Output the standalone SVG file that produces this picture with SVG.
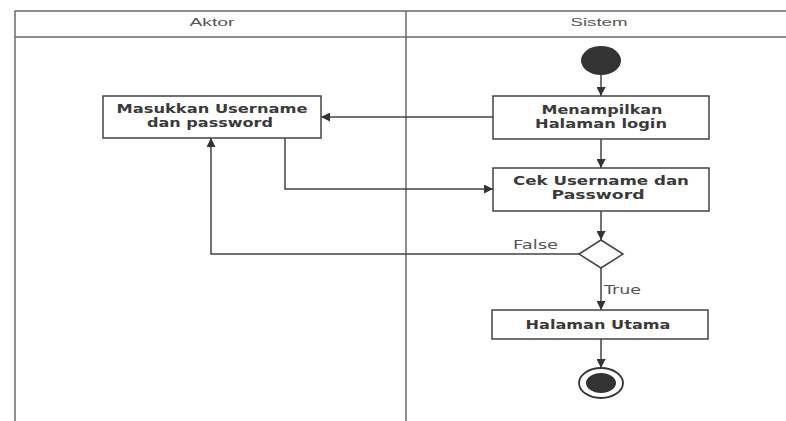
<svg xmlns="http://www.w3.org/2000/svg" width="786" height="421" viewBox="0 0 786 421">
<defs>
<marker id="arr" viewBox="0 0 10 10" refX="10" refY="5" markerWidth="10" markerHeight="9" markerUnits="userSpaceOnUse" orient="auto">
<path d="M0,0 L10,5 L0,10 z" fill="#333"/>
</marker>
<style>
.lane{fill:none;stroke:#6a6a6a;stroke-width:1.5}
.hdr{font-family:"Liberation Sans",Arial,sans-serif;font-size:11px;fill:#555;text-anchor:middle}
.box{fill:#fff;stroke:#444;stroke-width:1.5}
.lbl{font-family:"DejaVu Sans","Liberation Sans",sans-serif;font-size:11.5px;font-weight:bold;fill:#3a3a3a;text-anchor:middle}
.edge{fill:none;stroke:#444;stroke-width:1.5;marker-end:url(#arr)}
.elbl{font-family:"DejaVu Sans","Liberation Sans",sans-serif;font-size:11.5px;fill:#555}
</style>
</defs>
<rect x="0" y="0" width="786" height="421" fill="#fff"/>
<g id="lanes">
<path class="lane" d="M15,421 V11 H786 M15,37 H786 M406,11 V421"/>
<text class="hdr" x="212" y="26" textLength="45" lengthAdjust="spacingAndGlyphs">Aktor</text>
<text class="hdr" x="599" y="26" textLength="57" lengthAdjust="spacingAndGlyphs">Sistem</text>
</g>
<g id="edges">
<path class="edge" d="M601,75 V96"/>
<path class="edge" d="M493,117 H321"/>
<path class="edge" d="M285,138 V189 H493"/>
<path class="edge" d="M601,139 V168"/>
<path class="edge" d="M601,211 V240"/>
<path class="edge" d="M579,254 H211 V138"/>
<path class="edge" d="M601,268 V310"/>
<path class="edge" d="M601,339 V368"/>
<text class="elbl" x="513" y="249" textLength="45" lengthAdjust="spacingAndGlyphs">False</text>
<text class="elbl" x="604" y="294" textLength="37" lengthAdjust="spacingAndGlyphs">True</text>
</g>
<g id="start">
<ellipse cx="601" cy="60.5" rx="20" ry="14.5" fill="#333"/>
</g>
<g id="masukkan">
<rect class="box" x="103" y="96" width="218" height="42"/>
<text class="lbl" x="212" y="113" textLength="191" lengthAdjust="spacingAndGlyphs">Masukkan Username</text>
<text class="lbl" x="210" y="127" textLength="126" lengthAdjust="spacingAndGlyphs">dan password</text>
</g>
<g id="menampilkan">
<rect class="box" x="493" y="96" width="216" height="43"/>
<text class="lbl" x="602" y="114" textLength="121" lengthAdjust="spacingAndGlyphs">Menampilkan</text>
<text class="lbl" x="601" y="128" textLength="132" lengthAdjust="spacingAndGlyphs">Halaman login</text>
</g>
<g id="cek">
<rect class="box" x="493" y="168" width="216" height="43"/>
<text class="lbl" x="601" y="185" textLength="176" lengthAdjust="spacingAndGlyphs">Cek Username dan</text>
<text class="lbl" x="598" y="199" textLength="93" lengthAdjust="spacingAndGlyphs">Password</text>
</g>
<g id="decision">
<path d="M601,240 L623,254 L601,268 L579,254 z" fill="#fff" stroke="#444" stroke-width="1.5"/>
</g>
<g id="utama">
<rect class="box" x="492" y="310" width="216" height="29"/>
<text class="lbl" x="598" y="329" textLength="145" lengthAdjust="spacingAndGlyphs">Halaman Utama</text>
</g>
<g id="end">
<ellipse cx="601" cy="383" rx="22" ry="15" fill="#fff" stroke="#333" stroke-width="1.8"/>
<ellipse cx="601" cy="383" rx="15" ry="10" fill="#333"/>
</g>
</svg>
